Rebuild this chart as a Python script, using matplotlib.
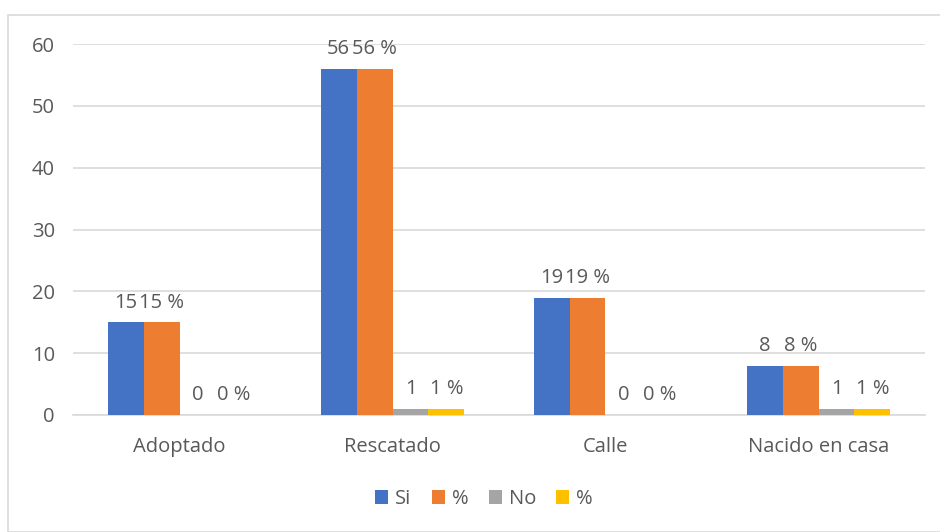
import matplotlib
matplotlib.use("Agg")
import matplotlib.pyplot as plt
from matplotlib.patches import Rectangle, Patch
import numpy as np

categories = ["Adoptado", "Rescatado", "Calle", "Nacido en casa"]
series_names = ["Si", "%", "No", "%"]
si_values = [15, 56, 19, 8]
si_pct = [15, 56, 19, 8]
no_values = [0, 1, 0, 1]
no_pct = [0, 1, 0, 1]
yticks = [0, 10, 20, 30, 40, 50, 60]

colors = ["#4472C4", "#ED7D31", "#A5A5A5", "#FFC000"]
text_color = "#595959"
grid_color = "#D9D9D9"

plt.rcParams["font.family"] = ["Open Sans", "DejaVu Sans"]
fs = 14.5

fig = plt.figure(figsize=(9.4, 5.32), dpi=100)
fig.patches.append(Rectangle((8 / 940, 0), 1, 1 - 15 / 532, transform=fig.transFigure,
                             fill=False, edgecolor=grid_color, linewidth=1.2))
ax = fig.add_axes([73 / 940, 1 - 415 / 532, 852 / 940, 371 / 532])

x = np.arange(len(categories))
bw = 0.169
all_series = [si_values, si_pct, no_values, no_pct]
label_fmt = ["{}", "{} %", "{}", "{} %"]
for i, (vals, col, fmt) in enumerate(zip(all_series, colors, label_fmt)):
    pos = x + (i - 1.5) * bw
    ax.bar(pos, vals, width=bw, color=col, zorder=3)
    for p, v in zip(pos, vals):
        ax.annotate(fmt.format(v), (p, v), xytext=(0, 7), textcoords="offset points",
                    ha="center", va="bottom", fontsize=fs, color=text_color)

ax.set_xlim(-0.5, len(categories) - 0.5)
ax.set_ylim(0, 60)
ax.set_yticks(yticks)
ax.set_xticks(x)
ax.set_xticklabels(categories)
ax.tick_params(axis="both", length=0, labelsize=fs, labelcolor=text_color)
ax.tick_params(axis="x", pad=16)
ax.tick_params(axis="y", pad=13)
ax.yaxis.grid(True, color=grid_color, linewidth=1.2, zorder=0)
for s in ["top", "right", "left"]:
    ax.spines[s].set_visible(False)
ax.spines["bottom"].set_color(grid_color)
ax.spines["bottom"].set_linewidth(1.2)

handles = [Patch(facecolor=c, edgecolor="none") for c in colors]
fig.legend(handles, series_names, loc="center", bbox_to_anchor=(484 / 940, 1 - 499 / 532),
           ncol=4, frameon=False, fontsize=fs, labelcolor=text_color,
           handlelength=0.65, handleheight=0.65, handletextpad=0.35, columnspacing=1.0)

fig.savefig("out.png", dpi=100)
